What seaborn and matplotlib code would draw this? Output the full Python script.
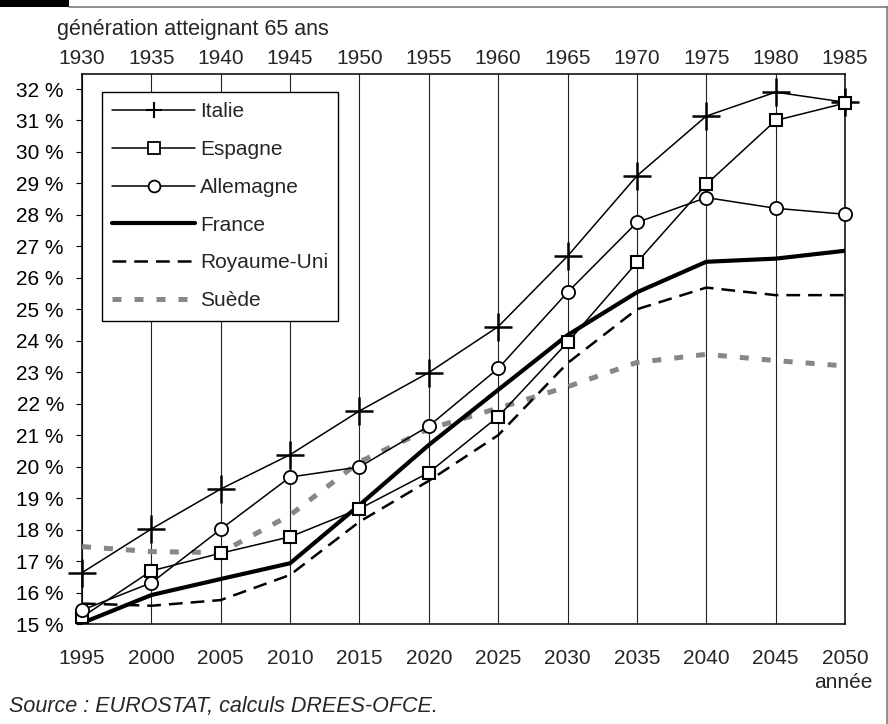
import matplotlib
matplotlib.use("Agg")
import matplotlib.pyplot as plt
from matplotlib.lines import Line2D
from matplotlib.patches import Rectangle
import seaborn as sns

# ---------------- data ----------------
years = [1995, 2000, 2005, 2010, 2015, 2020, 2025, 2030, 2035, 2040, 2045, 2050]
generations = ["1930", "1935", "1940", "1945", "1950", "1955", "1960", "1965",
               "1970", "1975", "1980", "1985"]
italie = [16.63, 18.02, 19.29, 20.38, 21.77, 22.99, 24.45, 26.69, 29.24, 31.14, 31.90, 31.58]
espagne = [15.22, 16.69, 17.25, 17.77, 18.66, 19.81, 21.59, 23.95, 26.49, 28.97, 31.00, 31.55]
allemagne = [15.44, 16.31, 18.01, 19.67, 19.99, 21.29, 23.12, 25.54, 27.76, 28.55, 28.21, 28.02]
france = [15.03, 15.92, 16.43, 16.93, 18.78, 20.69, 22.44, 24.18, 25.54, 26.51, 26.61, 26.86]
royaume_uni = [15.65, 15.58, 15.76, 16.56, 18.25, 19.55, 21.00, 23.29, 25.00, 25.69, 25.45, 25.45]
suede = [17.46, 17.30, 17.27, 18.46, 20.15, 21.20, 21.86, 22.54, 23.31, 23.57, 23.37, 23.20]
y_ticks = list(range(15, 33))

sns.set_style("white")
plt.rcParams["font.family"] = ["Liberation Sans", "DejaVu Sans"]
FS = 15

W, H = 888, 724
fig = plt.figure(figsize=(W / 100, H / 100), dpi=100)
ax_left, ax_right, ax_top, ax_bottom = 82, 845, 74, 624
ax = fig.add_axes([ax_left / W, (H - ax_bottom) / H,
                   (ax_right - ax_left) / W, (ax_bottom - ax_top) / H])

thin = 1.1
# Italie
sns.lineplot(x=years, y=italie, ax=ax, color="black", linewidth=thin,
             marker="+", markersize=20, mec="black", mew=1.8, clip_on=False, zorder=5)
# Espagne
sns.lineplot(x=years, y=espagne, ax=ax, color="black", linewidth=thin,
             marker="s", markersize=8.5, mec="black", mfc="white", mew=1.5,
             clip_on=False, zorder=5)
# Allemagne
sns.lineplot(x=years, y=allemagne, ax=ax, color="black", linewidth=thin,
             marker="o", markersize=9.5, mec="black", mfc="white", mew=1.3,
             clip_on=False, zorder=5)
# France
sns.lineplot(x=years, y=france, ax=ax, color="black", linewidth=3.0, zorder=4)
# Royaume-Uni
sns.lineplot(x=years, y=royaume_uni, ax=ax, color="black", linewidth=1.8, zorder=4)
ax.lines[-1].set_dashes((5.5, 3.2))
# Suede
sns.lineplot(x=years, y=suede, ax=ax, color="#878787", linewidth=3.6, zorder=3)
ax.lines[-1].set_dashes((1.8, 2.6))

ax.set_xlim(1995, 2050)
ax.set_ylim(15, 15 + (ax_bottom - ax_top) / 31.47)
ax.set_xticks(years)
ax.set_xticklabels([str(y) for y in years])
ax.set_yticks(y_ticks)
ax.set_yticklabels([f"{v} %" for v in y_ticks])
ax.tick_params(axis="x", length=0, pad=18, labelsize=FS)
ax.tick_params(axis="y", direction="out", length=4, width=0.8, pad=9,
               labelsize=FS, left=True, colors="black")
ax.grid(axis="x", color="#222222", linewidth=0.8)
ax.grid(axis="y", visible=False)
for sp in ax.spines.values():
    sp.set_visible(True)
    sp.set_color("black")
    sp.set_linewidth(1.1)
ax.set_xlabel("")
ax.set_ylabel("")

ax2 = ax.twiny()
ax2.set_xlim(ax.get_xlim())
ax2.set_xticks(years)
ax2.set_xticklabels(generations)
ax2.tick_params(axis="x", length=0, pad=4, labelsize=FS)
for sp in ax2.spines.values():
    sp.set_visible(False)
ax2.grid(False)

# legend
handles = [
    Line2D([], [], color="black", lw=thin, marker="+", markersize=12, mew=1.5),
    Line2D([], [], color="black", lw=thin, marker="s", markersize=8, mfc="white", mew=1.3),
    Line2D([], [], color="black", lw=thin, marker="o", markersize=8.5, mfc="white", mew=1.3),
    Line2D([], [], color="black", lw=3.0),
    Line2D([], [], color="black", lw=1.8, dashes=(5.5, 3.2)),
    Line2D([], [], color="#878787", lw=3.6, dashes=(1.8, 2.6)),
]
labels = ["Italie", "Espagne", "Allemagne", "France", "Royaume-Uni", "Suède"]
leg = ax.legend(handles, labels, loc="upper left",
                bbox_to_anchor=((102 - ax_left) / (ax_right - ax_left),
                                (ax_bottom - 92) / (ax_bottom - ax_top)),
                borderaxespad=0, frameon=True, fancybox=False, framealpha=1,
                edgecolor="black", fontsize=FS, handlelength=3.95,
                handletextpad=0.25, labelspacing=0.9, borderpad=0.5)
leg.get_frame().set_linewidth(1.0)
leg.set_zorder(10)

# texts
fig.text(57 / W, 1 - 35 / H, "génération atteignant 65 ans", ha="left",
         va="baseline", fontsize=15.5)
fig.text(872 / W, 1 - 688 / H, "année", ha="right", va="baseline", fontsize=FS)
fig.text(9 / W, 1 - 712 / H, "Source : EUROSTAT, calculs DREES-OFCE.", ha="left",
         va="baseline", fontsize=15.5, style="italic")

# frame decorations
fig.add_artist(Rectangle((0, 1 - 7 / H), 69 / W, 7 / H, transform=fig.transFigure,
                         facecolor="black", edgecolor="none"))
fig.add_artist(Line2D([69 / W, 1], [1 - 7 / H, 1 - 7 / H], transform=fig.transFigure,
                      color="#7a7a7a", lw=1.2))
fig.add_artist(Line2D([887 / W, 887 / W], [0, 1 - 7 / H], transform=fig.transFigure,
                      color="#7a7a7a", lw=1.2))

fig.savefig("out.png", dpi=100)
